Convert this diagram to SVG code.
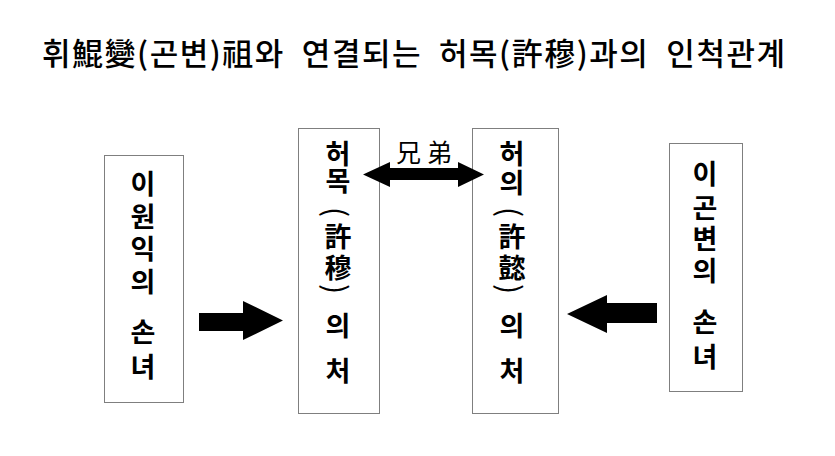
<svg xmlns="http://www.w3.org/2000/svg" width="835" height="456" viewBox="0 0 835 456">
<style>
.box{fill:#ffffff;stroke:#7f7f7f;stroke-width:1}
.t{font-family:"Noto Sans CJK KR","Noto Sans CJK SC",sans-serif;font-size:27px;font-weight:bold;fill:#000;text-anchor:middle}
.p{font-family:"Noto Sans CJK KR",sans-serif;font-size:30px;fill:#000;text-anchor:middle;dominant-baseline:central}
.title{font-family:"Noto Sans CJK KR","Noto Sans CJK SC",sans-serif;font-size:31px;font-weight:500;fill:#000;white-space:pre}
.arrow{fill:#000}
</style>
<rect width="835" height="456" fill="#ffffff"/>
<text class="title" x="42" y="65" textLength="743" lengthAdjust="spacing">휘鯤變(곤변)祖와  연결되는  허목(許穆)과의  인척관계</text>
<g id="node-leewonik">
<rect class="box" x="104.5" y="155.5" width="79" height="247"/>
<text class="t"><tspan x="143" y="194">이</tspan><tspan x="143" y="227">원</tspan><tspan x="143" y="259">익</tspan><tspan x="143" y="292">의</tspan><tspan x="143" y="342">손</tspan><tspan x="143" y="377">녀</tspan></text>
</g>
<g id="node-heomok">
<rect class="box" x="298.5" y="128.5" width="81" height="285"/>
<text class="t"><tspan x="338" y="164">허</tspan><tspan x="338" y="191">목</tspan><tspan x="338" y="247">許</tspan><tspan x="338" y="278">穆</tspan><tspan x="338" y="336">의</tspan><tspan x="338" y="381">처</tspan></text>
<text class="p" transform="translate(338,212) rotate(90)">(</text>
<text class="p" transform="translate(338,289) rotate(90)">)</text>
</g>
<g id="node-heoui">
<rect class="box" x="472.5" y="128.5" width="86" height="285"/>
<text class="t"><tspan x="512" y="164">허</tspan><tspan x="512" y="193">의</tspan><tspan x="512" y="247">許</tspan><tspan x="512" y="278">懿</tspan><tspan x="512" y="336">의</tspan><tspan x="512" y="381">처</tspan></text>
<text class="p" transform="translate(512,212) rotate(90)">(</text>
<text class="p" transform="translate(512,289) rotate(90)">)</text>
</g>
<g id="node-leegonbyeon">
<rect class="box" x="669.5" y="143.5" width="73" height="248"/>
<text class="t"><tspan x="705" y="184">이</tspan><tspan x="705" y="218">곤</tspan><tspan x="705" y="249">변</tspan><tspan x="705" y="281">의</tspan><tspan x="705" y="332">손</tspan><tspan x="705" y="367">녀</tspan></text>
</g>
<g id="connectors">
<polygon class="arrow" points="199,313 243,313 243,301 283,320.5 243,340 243,331 199,331"/>
<polygon class="arrow" points="657,303 607,303 607,295 567,314 607,333 607,323 657,323"/>
<polygon class="arrow" points="363,174.5 390,162 390,168 458,168 458,162 484,174.5 458,187 458,180 390,180 390,187"/>
<text x="427" y="162" style="font-family:'Noto Sans CJK SC','Noto Sans CJK KR',sans-serif;font-size:25px;letter-spacing:6px;text-anchor:middle;fill:#000">兄弟</text>
</g>
</svg>
